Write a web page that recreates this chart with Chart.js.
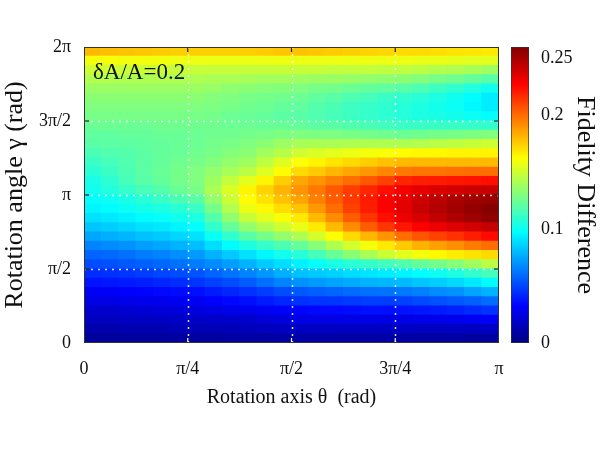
<!DOCTYPE html>
<html>
<head>
<meta charset="utf-8">
<script src="https://cdn.jsdelivr.net/npm/chart.js@4.4.0/dist/chart.umd.min.js"></script>
<style>
  body { margin: 0; background: #fff; }
  #wrap { position: relative; width: 600px; height: 454px; }
  #wrap canvas { position: absolute; top: 0; }
</style>
</head>
<body>
<div id="wrap">
  <canvas id="map" width="600" height="454" style="left:0"></canvas>
  <canvas id="bar" width="100" height="454" style="left:500px"></canvas>
</div>
<script>
// axis ticks
var thetaLabels = ['0', 'π/4', 'π/2', '3π/4', 'π'];
var gammaLabels = ['0', 'π/2', 'π', '3π/2', '2π'];
var colorTicks = [0, 0.1, 0.2, 0.25];
var colorTickLabels = ['0', '0.1', '0.2', '0.25'];
var colorMax = 0.26;

// fidelity difference, in units of 1e-3
// one row per gamma step (row 0 = gamma near 0), 24 theta columns from 0 to pi
var fidelity = [
  [7,7,7,7,8,8,8,8,9,9,9,10,10,10,10,10,10,10,10,9,9,9,8,8],
  [12,12,13,13,13,14,14,14,15,15,16,16,17,17,17,17,17,17,17,17,17,17,17,17],
  [16,16,17,17,17,18,18,19,19,20,22,23,25,25,26,26,26,26,26,27,27,28,29,30],
  [20,20,21,22,23,23,24,25,27,28,30,31,33,34,34,35,36,36,37,38,39,41,43,45],
  [26,26,27,28,28,29,30,32,34,36,39,42,45,46,46,47,48,48,49,51,53,55,57,60],
  [31,31,32,33,34,35,36,39,42,45,48,52,55,57,58,60,61,62,63,65,68,70,74,78],
  [37,38,39,40,42,44,46,49,52,56,61,66,70,72,74,76,78,79,80,83,85,88,92,97],
  [44,45,46,48,50,52,54,58,62,66,71,77,82,84,86,89,91,93,95,98,101,105,110,115],
  [52,53,55,57,59,61,64,68,73,78,84,89,94,99,104,108,111,114,118,123,127,132,138,145],
  [58,59,61,64,66,69,72,78,84,90,96,102,108,115,124,133,141,149,155,160,164,167,170,172],
  [66,68,70,73,75,78,81,89,97,105,111,117,123,132,142,151,160,168,176,182,187,191,196,200],
  [75,77,79,82,84,87,90,100,110,120,127,135,142,152,162,172,181,190,200,206,211,215,220,225],
  [83,85,87,90,92,95,98,110,123,135,143,150,157,168,180,192,204,214,222,228,232,236,239,242],
  [90,92,94,97,99,102,105,119,134,148,155,161,168,180,192,204,214,224,232,238,243,248,252,256],
  [95,97,100,103,105,108,112,127,143,158,164,171,178,189,200,211,220,228,235,242,247,251,255,258],
  [98,101,104,108,112,116,120,135,149,163,170,178,186,195,204,213,221,228,234,240,245,249,252,253],
  [102,106,111,115,119,124,128,141,153,165,174,182,190,197,205,212,218,224,230,234,237,239,241,242],
  [104,109,115,120,123,127,130,138,147,155,165,175,185,190,195,200,205,211,218,220,221,222,223,224],
  [108,112,117,121,124,127,130,135,140,145,154,163,172,176,181,185,189,193,197,198,198,199,200,200],
  [112,115,118,121,123,126,128,131,135,138,146,154,162,165,169,172,175,178,180,180,180,180,180,180],
  [116,118,119,121,123,124,126,128,131,133,139,144,150,153,155,158,160,161,163,164,164,165,165,165],
  [120,121,121,122,123,124,125,127,128,130,133,137,140,141,141,142,142,142,142,143,145,146,148,150],
  [122,122,123,123,124,124,125,126,126,127,128,129,130,129,129,128,127,126,125,126,127,128,129,130],
  [125,125,125,125,126,126,126,126,125,125,124,124,123,121,120,118,116,114,112,112,112,112,111,110],
  [128,128,128,128,128,128,128,127,125,124,123,121,120,118,115,113,111,109,107,105,104,102,100,98],
  [130,130,130,130,130,130,130,129,128,126,125,123,122,119,116,113,111,109,107,105,102,100,96,93],
  [133,133,133,133,133,133,133,131,130,128,127,126,125,122,120,117,115,112,110,108,105,101,97,93],
  [137,137,137,137,137,137,137,136,134,133,132,131,130,128,127,125,123,122,120,117,113,110,106,102],
  [143,143,142,142,142,142,142,141,141,140,139,139,138,137,137,136,135,134,133,131,128,126,123,120],
  [150,150,149,149,149,148,148,148,148,148,148,148,148,148,147,147,147,146,146,145,143,142,140,138],
  [160,160,159,159,159,158,158,158,158,158,158,158,158,158,158,158,158,158,158,157,157,156,155,155],
  [180,179,178,177,176,175,175,175,175,175,176,177,178,177,176,175,174,173,172,172,171,170,169,168]
];

var PI = Math.PI;
var serif = 'Liberation Serif';

// matlab style jet
function jet(t) {
  t = Math.min(1, Math.max(0, t));
  var c = function (k) {
    return Math.round(255 * Math.min(1, Math.max(0, 1.5 - Math.abs(4 * t - k))));
  };
  return 'rgb(' + c(3) + ',' + c(2) + ',' + c(1) + ')';
}

var nCols = fidelity[0].length;
var nRows = fidelity.length;
var dTheta = PI / nCols;
var dGamma = 2 * PI / nRows;

var datasets = fidelity.map(function (row, j) {
  return {
    data: row.map(function (v, i) {
      return { x: (i + 0.5) * dTheta, y: [j * dGamma, (j + 1) * dGamma] };
    }),
    backgroundColor: row.map(function (v) { return jet(v / 1000 / colorMax); }),
    borderWidth: 0
  };
});

// dotted white grid over the map, frame, inner tick marks and the dA/A note
var framePlugin = {
  id: 'frame',
  afterDatasetsDraw: function (chart) {
    var a = chart.chartArea, ctx = chart.ctx;
    var sx = chart.scales.x, sy = chart.scales.y;
    ctx.save();
    ctx.strokeStyle = 'rgba(255,255,255,0.85)';
    ctx.lineWidth = 1.5;
    ctx.setLineDash([2, 5]);
    [1, 2, 3].forEach(function (k) {
      var px = Math.round(sx.getPixelForValue(k * PI / 4)) + 0.5;
      ctx.beginPath(); ctx.moveTo(px, a.bottom); ctx.lineTo(px, a.top); ctx.stroke();
      var py = Math.round(sy.getPixelForValue(k * PI / 2)) + 0.5;
      ctx.beginPath(); ctx.moveTo(a.left, py); ctx.lineTo(a.right, py); ctx.stroke();
    });
    ctx.setLineDash([]);
    ctx.lineWidth = 1.2;
    [1, 2, 3].forEach(function (k) {
      var px = sx.getPixelForValue(k * PI / 4);
      ctx.strokeStyle = '#222';
      ctx.beginPath(); ctx.moveTo(px, a.top); ctx.lineTo(px, a.top + 5); ctx.stroke();
      ctx.strokeStyle = '#fff';
      ctx.beginPath(); ctx.moveTo(px, a.bottom); ctx.lineTo(px, a.bottom - 5); ctx.stroke();
      var py = sy.getPixelForValue(k * PI / 2);
      ctx.strokeStyle = '#222';
      ctx.beginPath(); ctx.moveTo(a.left, py); ctx.lineTo(a.left + 5, py); ctx.stroke();
      ctx.beginPath(); ctx.moveTo(a.right, py); ctx.lineTo(a.right - 5, py); ctx.stroke();
    });
    ctx.strokeStyle = '#333';
    ctx.lineWidth = 1;
    ctx.strokeRect(a.left + 0.5, a.top + 0.5, a.right - a.left - 1, a.bottom - a.top - 1);
    ctx.fillStyle = '#111';
    ctx.font = '23px "' + serif + '"';
    ctx.textBaseline = 'middle';
    ctx.fillText('δA/A=0.2', a.left + 9, a.top + 26);
    ctx.restore();
  }
};

new Chart(document.getElementById('map'), {
  type: 'bar',
  data: { datasets: datasets },
  plugins: [framePlugin],
  options: {
    responsive: false,
    animation: false,
    events: [],
    layout: { padding: { left: 0, top: 47, right: 101, bottom: 30 } },
    datasets: { bar: { grouped: false, barPercentage: 1, categoryPercentage: 1, inflateAmount: 0.5 } },
    plugins: { legend: { display: false }, tooltip: { enabled: false } },
    scales: {
      x: {
        type: 'linear', min: 0, max: PI, offset: false,
        afterBuildTicks: function (s) { s.ticks = thetaLabels.map(function (l, k) { return { value: k * PI / 4 }; }); },
        afterFit: function (s) { s.height = 81; },
        ticks: { padding: 7, color: '#111', font: { family: serif, size: 18 },
          callback: function (v, i) { return thetaLabels[i]; } },
        grid: { display: false, offset: false },
        border: { display: false },
        title: { display: true, text: 'Rotation axis θ  (rad)', color: '#111',
          font: { family: serif, size: 20 }, padding: { top: 0, bottom: 14 } }
      },
      y: {
        type: 'linear', min: 0, max: 2 * PI,
        afterBuildTicks: function (s) { s.ticks = gammaLabels.map(function (l, k) { return { value: k * PI / 2 }; }); },
        afterFit: function (s) { s.width = 84; },
        ticks: { padding: 5, color: '#111', font: { family: serif, size: 18 },
          callback: function (v, i) { return gammaLabels[i]; } },
        grid: { display: false },
        border: { display: false },
        title: { display: true, text: 'Rotation angle γ (rad)', color: '#111',
          font: { family: serif, size: 26 }, padding: { top: 0, bottom: 0 } }
      }
    }
  }
});

// colour bar
function jetGradient(chart) {
  var a = chart.chartArea;
  if (!a) return 'rgb(0,0,128)';
  var g = chart.ctx.createLinearGradient(0, a.bottom, 0, a.top);
  [0, 0.125, 0.375, 0.625, 0.875, 1].forEach(function (t) { g.addColorStop(t, jet(t)); });
  return g;
}

new Chart(document.getElementById('bar'), {
  type: 'bar',
  data: {
    labels: [''],
    datasets: [{
      data: [[0, colorMax]],
      backgroundColor: function (ctx) { return jetGradient(ctx.chart); },
      borderColor: '#333', borderWidth: 1, borderSkipped: false
    }]
  },
  options: {
    responsive: false,
    animation: false,
    events: [],
    layout: { padding: { left: 11, top: 47, right: 0, bottom: 111 } },
    barPercentage: 1, categoryPercentage: 1,
    plugins: { legend: { display: false }, tooltip: { enabled: false } },
    scales: {
      x: { display: false },
      y: {
        position: 'right', min: 0, max: colorMax,
        afterBuildTicks: function (s) { s.ticks = colorTicks.map(function (v) { return { value: v }; }); },
        afterFit: function (s) { s.width = 71; },
        ticks: { padding: 4, color: '#111', font: { family: serif, size: 18 },
          callback: function (v, i) { return colorTickLabels[i]; } },
        grid: { display: false },
        border: { display: false },
        title: { display: true, text: 'Fidelity Difference', color: '#111',
          font: { family: serif, size: 26 }, padding: { top: 0, bottom: 0 } }
      }
    }
  }
});
</script>
</body>
</html>
